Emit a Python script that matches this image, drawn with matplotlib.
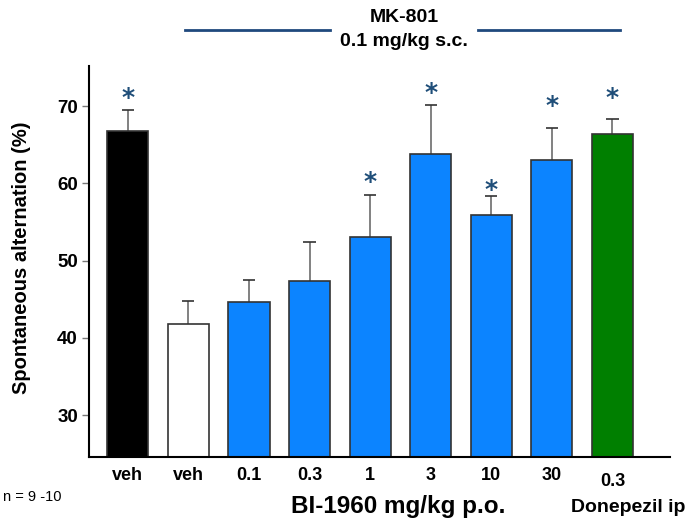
import numpy as np
import matplotlib
matplotlib.use('Agg')
import matplotlib.pyplot as plt

plt.rcParams['font.family'] = ['Liberation Sans', 'DejaVu Sans']

labels = ['veh', 'veh', '0.1', '0.3', '1', '3', '10', '30', '0.3']
means = [66.8, 41.8, 44.6, 47.4, 53.1, 63.8, 55.9, 63.1, 66.4]
sems = [2.7, 3.0, 2.9, 5.0, 5.4, 6.4, 2.5, 4.1, 1.9]
colors = ['black', 'white', '#0c84ff', '#0c84ff', '#0c84ff', '#0c84ff', '#0c84ff', '#0c84ff', '#007f00']
signif = [True, False, False, False, True, True, True, True, True]
star_y = [71.0, None, None, None, 60.2, 71.7, 59.2, 70.0, 71.1]

fig = plt.figure(figsize=(6.88, 5.23), dpi=100)
ax = fig.add_axes([89/688, 1 - 457/523, (670-89)/688, (457-66)/523])

x = np.arange(len(labels))
ax.bar(x, means, width=0.68, bottom=0, color=colors, edgecolor='#333333', linewidth=1.2, zorder=2)
ax.errorbar(x, means, yerr=[np.zeros(len(sems)), sems], fmt='none', ecolor='#777777',
            elinewidth=1.3, capsize=0, zorder=1)
# caps
ax.errorbar(x, np.array(means) + np.array(sems), fmt='none', xerr=0.1, ecolor='#333333',
            elinewidth=1.2, zorder=3)
for xi, s, sy in zip(x, signif, star_y):
    if s:
        ax.text(xi, sy, '*', ha='center', va='center', fontsize=18, fontweight='bold',
                color='#1f4e79', family='DejaVu Sans')

ax.set_xlim(-0.64, 8.95)
ax.set_ylim(24.6, 75.2)
ax.set_yticks([30, 40, 50, 60, 70])
ax.tick_params(axis='y', length=5, width=1, color='#777777', labelsize=13.5, pad=3)
for t in ax.get_yticklabels():
    t.set_fontweight('bold')
ax.set_xticks([])
for s in ['top', 'right']:
    ax.spines[s].set_visible(False)
ax.spines['left'].set_linewidth(1.5)
ax.spines['bottom'].set_linewidth(1.5)

for xi, lab in enumerate(labels):
    yy = -0.048 if xi < 8 else -0.062
    ax.text(xi, yy, lab, transform=ax.get_xaxis_transform(), ha='center', va='center',
            fontsize=13, fontweight='bold')

fig.text(22/688, 1 - 258/523, 'Spontaneous alternation (%)', rotation=90, ha='center', va='center',
         fontsize=14.5, fontweight='bold')

fig.text(398/688, 1 - 507/523, 'BI-1960 mg/kg p.o.', ha='center', va='center', fontsize=17.5, fontweight='bold')
fig.text(628/688, 1 - 508/523, 'Donepezil ip', ha='center', va='center', fontsize=14, fontweight='bold')
fig.text(3/688, 1 - 497/523, 'n = 9 -10', ha='left', va='center', fontsize=10.5)

fig.text(404/688, 1 - 18/523, 'MK-801', ha='center', va='center', fontsize=14, fontweight='bold')
fig.text(404/688, 1 - 42/523, '0.1 mg/kg s.c.', ha='center', va='center', fontsize=14, fontweight='bold')
fig.add_artist(plt.Line2D([185/688, 330/688], [1 - 30/523] * 2, color='#1f497d', linewidth=2))
fig.add_artist(plt.Line2D([478/688, 620/688], [1 - 30/523] * 2, color='#1f497d', linewidth=2))

fig.savefig('out.png', dpi=100)
